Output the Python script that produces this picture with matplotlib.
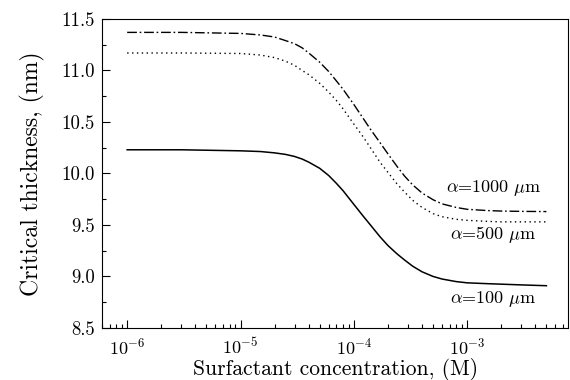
import matplotlib
matplotlib.use("Agg")
import matplotlib.pyplot as plt
from matplotlib.ticker import LogLocator, MultipleLocator, FormatStrFormatter

# concentration (M) and critical thickness (nm)
conc = [1e-6, 3e-6, 1e-5, 1.5e-5, 2e-5, 2.5e-5, 3e-5, 3.5e-5, 4e-5, 5e-5,
        6e-5, 7e-5, 8e-5, 1e-4, 1.2e-4, 1.4e-4, 1.7e-4, 2e-4, 2.4e-4, 2.8e-4,
        3.3e-4, 4e-4, 5e-4, 6e-4, 8e-4, 1e-3, 1.5e-3, 2e-3, 3e-3, 5e-3]
h_1000 = [11.37, 11.37, 11.36, 11.345, 11.325, 11.29, 11.26, 11.22, 11.17, 11.08,
          10.99, 10.90, 10.82, 10.67, 10.54, 10.43, 10.30, 10.19, 10.07, 9.975,
          9.89, 9.81, 9.745, 9.705, 9.67, 9.652, 9.64, 9.635, 9.632, 9.63]
h_500 = [11.17, 11.17, 11.165, 11.15, 11.125, 11.09, 11.05, 11.00, 10.96, 10.875,
         10.79, 10.71, 10.63, 10.48, 10.36, 10.25, 10.11, 10.01, 9.90, 9.82,
         9.74, 9.67, 9.61, 9.58, 9.555, 9.545, 9.535, 9.53, 9.53, 9.53]
h_100 = [10.23, 10.23, 10.22, 10.213, 10.20, 10.185, 10.165, 10.14, 10.11, 10.05,
         9.98, 9.905, 9.835, 9.70, 9.59, 9.50, 9.386, 9.30, 9.22, 9.16,
         9.10, 9.045, 9.00, 8.975, 8.95, 8.938, 8.93, 8.925, 8.918, 8.91]

labels = [r"$\alpha$=1000 $\mu$m", r"$\alpha$=500 $\mu$m", r"$\alpha$=100 $\mu$m"]
label_x = [1.7e-3, 1.7e-3, 1.7e-3]
label_y = [9.86, 9.41, 8.78]

plt.rcParams["font.family"] = "cmr10"
plt.rcParams["mathtext.fontset"] = "cm"
plt.rcParams["axes.unicode_minus"] = False
plt.rcParams["axes.formatter.use_mathtext"] = True

fig = plt.figure(figsize=(5.7, 3.8), dpi=100)
ax = fig.add_axes([0.179, 0.137, 0.818, 0.813])

ax.plot(conc, h_1000, color="black", lw=1.0, linestyle=(0, (7, 2, 1.2, 2)))
ax.plot(conc, h_500, color="black", lw=1.0, linestyle=(0, (1, 2.5)))
ax.plot(conc, h_100, color="black", lw=1.1, linestyle="-")

for t, x, y in zip(labels, label_x, label_y):
    ax.text(x, y, t, ha="center", va="center", fontsize=13)

ax.set_xscale("log")
ax.set_xlim(6.0e-7, 7.8e-3)
ax.set_ylim(8.5, 11.5)
ax.xaxis.set_major_locator(LogLocator(base=10, numticks=10))
ax.xaxis.set_minor_locator(LogLocator(base=10, subs=range(2, 10), numticks=20))
ax.yaxis.set_major_locator(MultipleLocator(0.5))
ax.yaxis.set_minor_locator(MultipleLocator(0.25))
ax.yaxis.set_major_formatter(FormatStrFormatter("%.1f"))

ax.tick_params(which="both", direction="in", top=False, right=False)
ax.tick_params(axis="y", labelsize=13.5, pad=5)
ax.tick_params(axis="x", labelsize=13, pad=6)
ax.tick_params(which="major", length=6, width=0.8)
ax.tick_params(which="minor", length=3, width=0.8)

ax.set_xlabel("Surfactant concentration, (M)", fontsize=15.5, labelpad=1)
ax.set_ylabel("Critical thickness, (nm)", fontsize=17, labelpad=12)

fig.savefig("out.png", dpi=100)
